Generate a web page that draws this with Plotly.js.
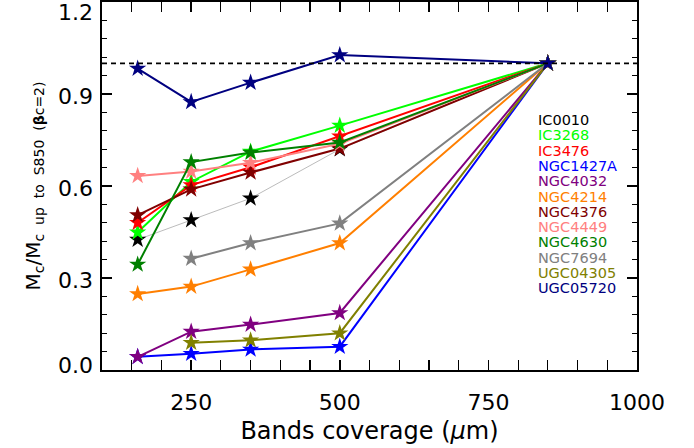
<!DOCTYPE html>
<html><head><meta charset="utf-8">
<script src="https://cdn.plot.ly/plotly-3.0.1.min.js"></script>
<style>html,body{margin:0;padding:0;background:#fff;}#chart{width:694px;height:448px;}</style>
</head><body><div id="chart"></div>
<script>
const bands = [160, 250, 350, 500, 850];
const names = ["IC0010","IC3268","IC3476","NGC1427A","NGC4032","NGC4214","NGC4376","NGC4449","NGC4630","NGC7694","UGC04305","UGC05720"];
const colors = ["#000000","#00ff00","#ff0000","#0000ff","#800080","#ff7f00","#800000","#ff8080","#008000","#808080","#808000","#000080"];
const IC0010   = [0.425, 0.489, 0.560, 0.720, 1.0];
const IC3268   = [0.449, 0.614, 0.712, 0.797, 1.0];
const IC3476   = [0.480, 0.603, 0.661, 0.762, 1.0];
const NGC1427A = [0.043, 0.053, 0.067, 0.076, 1.0];
const NGC4032  = [0.043, 0.125, 0.148, 0.186, 1.0];
const NGC4214  = [0.248, 0.272, 0.328, 0.414, 1.0];
const NGC4376  = [0.505, 0.589, 0.644, 0.722, 1.0];
const NGC4449  = [0.633, 0.647, 0.676, 0.738, 1.0];
const NGC4630  = [0.344, 0.678, 0.709, 0.742, 1.0];
const NGC7694  = [null, 0.363, 0.414, 0.478, 1.0];
const UGC04305 = [null, 0.089, 0.097, 0.120, 1.0];
const UGC05720 = [0.983, 0.874, 0.937, 1.027, 1.0];
const series = [IC0010, IC3268, IC3476, NGC1427A, NGC4032, NGC4214, NGC4376, NGC4449, NGC4630, NGC7694, UGC04305, UGC05720];
const refLevel = 1.0;
const xRange = [100, 1000];
const yRange = [0, 1.2];
const yTicks = [0, 0.3, 0.6, 0.9, 1.2];
const yTickText = ['0.0', '0.3', '0.6', '0.9', '1.2'];
const xTicks = [250, 500, 750, 1000];

const FONT = '"DejaVu Sans", Verdana, sans-serif';
const PLOT_H = 448 - 2 - 78;
// IDL-style: end labels kept inside the frame (pixel clamp converted to data units)
const pxToY = (yRange[1] - yRange[0]) / PLOT_H;
const labelPos = yTicks.map(v => Math.min(Math.max(v, yRange[0] + 7 * pxToY), yRange[1] - 8 * pxToY));

// reference line drawn on the label axis (same range) so that axis is rendered
const traces = [{
  x: xRange, y: [refLevel, refLevel], mode: 'lines', yaxis: 'y2',
  line: {color: '#000', width: 1.6, dash: '5px,4px'}, hoverinfo: 'skip', showlegend: false
}];
series.forEach((s, i) => {
  const thin = names[i] === 'IC0010';
  traces.push({
    x: bands, y: s, mode: 'lines+markers', name: names[i], connectgaps: true,
    line: {color: thin ? '#aaaaaa' : colors[i], width: thin ? 0.8 : 2},
    marker: {symbol: 'star', size: 13, color: colors[i], line: {width: 0}},
    showlegend: false
  });
});

const annotations = names.map((n, i) => ({
  xref: 'paper', yref: 'paper', x: (536 - 102) / 535, xanchor: 'left',
  y: 1 - (120 + i * 15.3 - 2) / PLOT_H, yanchor: 'middle',
  text: n, showarrow: false, font: {color: colors[i], size: 14.5, family: FONT}
}));

const axisCommon = {
  showgrid: false, zeroline: false, showline: true, linecolor: '#000', linewidth: 2,
  mirror: 'allticks', ticks: 'inside', ticklen: 10, tickwidth: 1.5, tickcolor: '#000',
  tickfont: {size: 22, color: '#000', family: FONT}
};

const layout = {
  width: 694, height: 448,
  margin: {l: 102, r: 57, t: 2, b: 78},
  paper_bgcolor: '#fff', plot_bgcolor: '#fff',
  font: {family: FONT, color: '#000'},
  xaxis: Object.assign({}, axisCommon, {
    range: xRange, tickvals: xTicks, ticklabelstandoff: 12,
    minor: {dtick: 50, tick0: 0, ticks: 'inside', ticklen: 5, tickwidth: 1.2, tickcolor: '#000'},
    title: {text: 'Bands coverage (<i>μ</i>m)', font: {size: 24, family: FONT}, standoff: 8}
  }),
  yaxis: Object.assign({}, axisCommon, {
    range: yRange, tickvals: yTicks, showticklabels: false,
    minor: {dtick: 0.06, tick0: 0, ticks: 'inside', ticklen: 5, tickwidth: 1.2, tickcolor: '#000'}
  }),
  yaxis2: {
    overlaying: 'y', side: 'left', anchor: 'x', range: yRange,
    showgrid: false, zeroline: false, showline: false, ticks: '',
    tickvals: labelPos, ticktext: yTickText, ticklabelshift: 2, ticklabelstandoff: 8,
    ticklabeloverflow: 'allow',
    tickfont: {size: 22, color: '#000', family: FONT},
    title: {text: 'M<sub>c</sub>/M<sub>c  up  to  S850  (<b>β</b>c=2)</sub>', font: {size: 20, family: FONT}, standoff: 12}
  },
  annotations: annotations
};
Plotly.newPlot('chart', traces, layout, {displayModeBar: false, staticPlot: true});
</script></body></html>
